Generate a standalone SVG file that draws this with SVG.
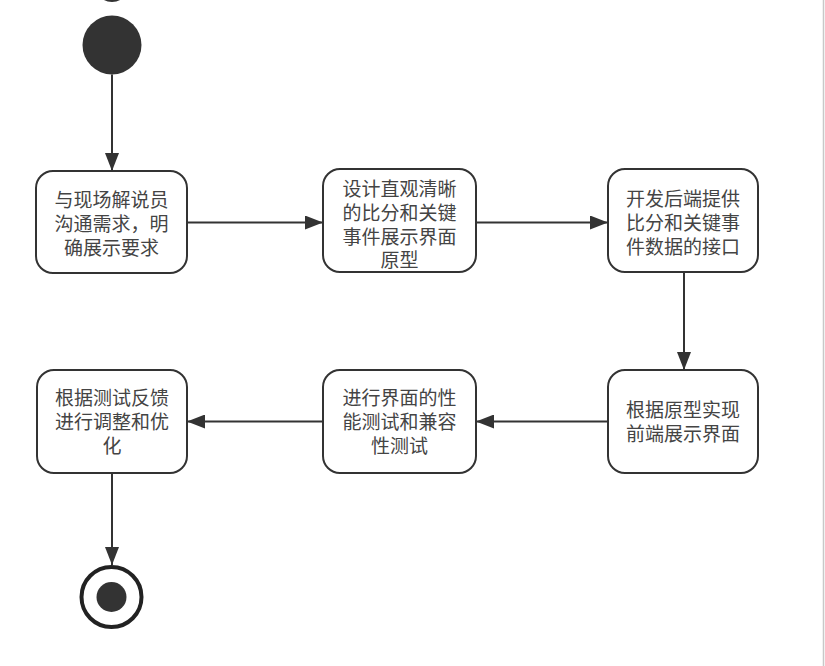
<svg xmlns="http://www.w3.org/2000/svg" width="825" height="666" viewBox="0 0 825 666">
<style>
.box{fill:#fff;stroke:#333;stroke-width:2}
.t{font-family:"Liberation Sans","Noto Sans CJK SC",sans-serif;font-size:19px;fill:#444;text-anchor:middle;dominant-baseline:central}
.edge{stroke:#333;stroke-width:2;fill:none;marker-end:url(#ah)}
</style>
<defs>
<marker id="ah" viewBox="0 0 18 14" refX="18" refY="7" markerWidth="18" markerHeight="14" markerUnits="userSpaceOnUse" orient="auto">
<path d="M0,0 L18,7 L0,14 Z" fill="#333"/>
</marker>
</defs>
<rect x="0" y="0" width="825" height="666" fill="#fff"/>
<line x1="823.5" y1="0" x2="823.5" y2="666" stroke="#c8c8c8" stroke-width="1.5"/>
<ellipse cx="112" cy="-9" rx="14" ry="11" fill="#333"/>
<g id="start"><circle cx="112" cy="45" r="29.5" fill="#333"/></g>
<g id="n1"><rect class="box" x="36" y="171" width="151" height="102" rx="17"/>
<text class="t" x="111.5" y="200">与现场解说员</text><text class="t" x="111.5" y="224">沟通需求，明</text><text class="t" x="111.5" y="248">确展示要求</text></g>
<g id="n2"><rect class="box" x="323" y="169" width="153" height="103" rx="17"/>
<text class="t" x="399.5" y="189">设计直观清晰</text><text class="t" x="399.5" y="213">的比分和关键</text><text class="t" x="399.5" y="237">事件展示界面</text><text class="t" x="399.5" y="260">原型</text></g>
<g id="n3"><rect class="box" x="608" y="169" width="150" height="103" rx="17"/>
<text class="t" x="683" y="199">开发后端提供</text><text class="t" x="683" y="223">比分和关键事</text><text class="t" x="683" y="247">件数据的接口</text></g>
<g id="n4"><rect class="box" x="608" y="370" width="150" height="103" rx="17"/>
<text class="t" x="683" y="410">根据原型实现</text><text class="t" x="683" y="434">前端展示界面</text></g>
<g id="n5"><rect class="box" x="323" y="370" width="153" height="103" rx="17"/>
<text class="t" x="399.5" y="398">进行界面的性</text><text class="t" x="399.5" y="422">能测试和兼容</text><text class="t" x="399.5" y="446">性测试</text></g>
<g id="n6"><rect class="box" x="37" y="370" width="150" height="103" rx="17"/>
<text class="t" x="112" y="398">根据测试反馈</text><text class="t" x="112" y="422">进行调整和优</text><text class="t" x="112" y="446">化</text></g>
<g id="end"><circle cx="111.5" cy="597" r="30" fill="#fff" stroke="#222" stroke-width="4"/><circle cx="111.5" cy="597" r="15" fill="#333"/></g>
<g id="edges">
<path class="edge" d="M112,74.5 L112,171"/>
<path class="edge" d="M187,222.5 L323,222.5"/>
<path class="edge" d="M476,222.5 L608,222.5"/>
<path class="edge" d="M684,272 L684,370"/>
<path class="edge" d="M608,421.5 L476,421.5"/>
<path class="edge" d="M323,421.5 L187,421.5"/>
<path class="edge" d="M112,473 L112,565"/>
</g>
</svg>
